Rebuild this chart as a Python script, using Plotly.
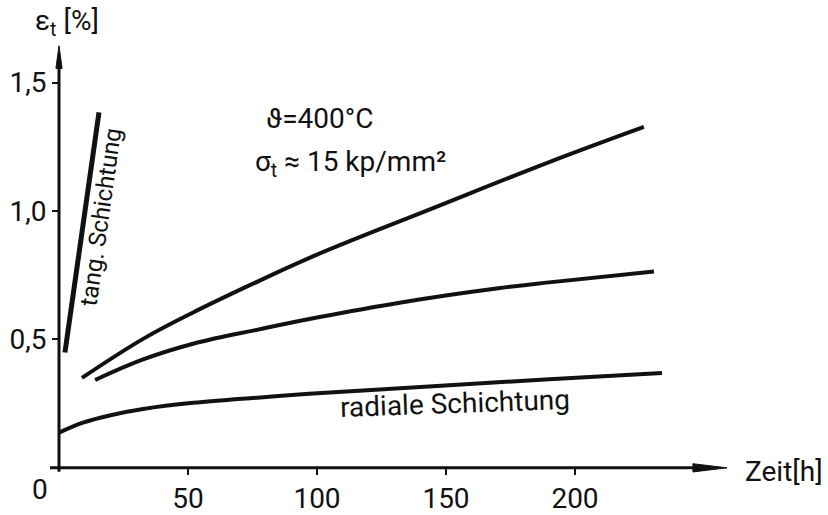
import plotly.graph_objects as go

# ---- data (time in h, strain in %) ----
tang_x = [2.3, 15.5]
tang_y = [0.449, 1.384]

upper_x = [8.9, 32.6, 52, 78, 100, 145, 190, 226.7]
upper_y = [0.35, 0.502, 0.605, 0.73, 0.83, 1.011, 1.19, 1.327]

middle_x = [14, 32.6, 52, 78, 100, 132, 171, 190, 230.6]
middle_y = [0.342, 0.422, 0.483, 0.54, 0.585, 0.643, 0.70, 0.722, 0.764]

radial_x = [0, 9.3, 20, 32.6, 52, 78, 97, 145, 190, 233.7]
radial_y = [0.137, 0.176, 0.205, 0.229, 0.253, 0.274, 0.288, 0.318, 0.345, 0.369]

x_ticks = [50, 100, 150, 200]
x_ticktext = ["50", "100", "150", "200"]
y_ticks = [0.5, 1.0, 1.5]
y_ticktext = ["0,5", "1,0", "1,5"]

FONT = "Roboto"
INK = "#111111"
FS = 28

fig = go.Figure()

fig.add_trace(go.Scatter(x=tang_x, y=tang_y, mode="lines",
                         line=dict(color=INK, width=5), showlegend=False))
for xs, ys in [(upper_x, upper_y), (middle_x, middle_y), (radial_x, radial_y)]:
    fig.add_trace(go.Scatter(x=xs, y=ys, mode="lines",
                             line=dict(color=INK, width=4, shape="spline", smoothing=1.1),
                             showlegend=False))

W, H = 828, 515
x_range = [-22.87, 298.06]
y_range = [-0.1369, 1.8213]

fig.update_layout(
    width=W, height=H,
    margin=dict(l=0, r=0, t=0, b=0),
    paper_bgcolor="white", plot_bgcolor="white",
    font=dict(family=FONT, color=INK, size=FS),
    xaxis=dict(range=x_range, anchor="free", position=36 / H,
               showline=False, showgrid=False, zeroline=False,
               tickvals=x_ticks, ticktext=x_ticktext,
               ticks="outside", ticklen=6, tickwidth=2, tickcolor=INK,
               tickfont=dict(family=FONT, size=FS, color=INK)),
    yaxis=dict(range=y_range, anchor="free", position=59 / W,
               showline=False, showgrid=False, zeroline=False,
               tickvals=y_ticks, ticktext=y_ticktext,
               ticks="outside", ticklen=7, tickwidth=2, tickcolor=INK,
               tickfont=dict(family=FONT, size=FS, color=INK)),
)

# axis lines with arrowheads
fig.add_shape(type="line", x0=0, y0=-0.015, x1=0, y1=1.60,
              line=dict(color=INK, width=3))
fig.add_shape(type="path", path="M -1.2,1.555 L 0,1.643 L 1.2,1.555 Z",
              fillcolor=INK, line=dict(color=INK, width=1))
fig.add_shape(type="line", x0=-3.5, y0=0, x1=250, y1=0,
              line=dict(color=INK, width=3))
fig.add_shape(type="path", path="M 245.7,-0.016 L 258.9,0 L 245.7,0.016 Z",
              fillcolor=INK, line=dict(color=INK, width=1))

def ann(x, y, text, size=FS, angle=0, xanchor="center"):
    fig.add_annotation(x=x, y=y, xref="x", yref="y", text=text, showarrow=False,
                       textangle=angle, xanchor=xanchor, yanchor="middle",
                       font=dict(family=FONT, size=size, color=INK))

ann(-7.4, -0.084, "0")
ann(3.0, 1.735, "ε<sub>t</sub> [%]")
ann(281, -0.015, "Zeit[h]")
ann(101, 1.361, "ϑ=400°C")
ann(113, 1.186, "σ<sub>t</sub> ≈ 15 kp/mm²")
ann(153.5, 0.251, "radiale Schichtung", angle=-2)
ann(16.2, 0.977, "tang. Schichtung", size=24, angle=-82)

fig.write_html("out.html")
